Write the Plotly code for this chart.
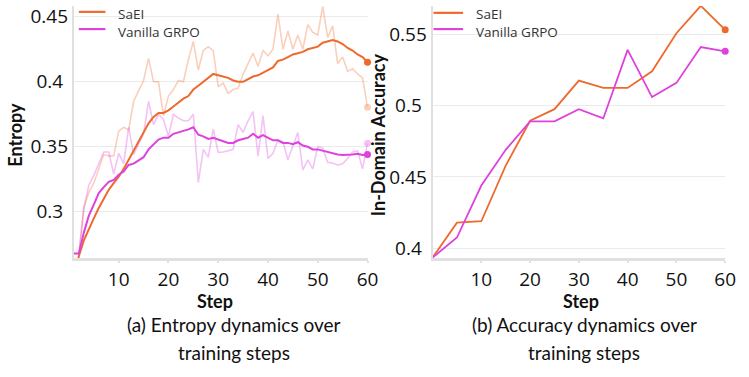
import plotly.graph_objects as go

# ---------------- data ----------------
steps = list(range(1, 61))

saei_entropy_raw = [0.250, 0.266, 0.303, 0.315, 0.322, 0.333, 0.344, 0.343, 0.343, 0.362,
                    0.365, 0.363, 0.385, 0.393, 0.401, 0.418, 0.400, 0.400, 0.374, 0.389,
                    0.394, 0.401, 0.400, 0.417, 0.431, 0.409, 0.424, 0.427, 0.424, 0.396,
                    0.399, 0.391, 0.394, 0.395, 0.406, 0.414, 0.422, 0.412, 0.424, 0.420,
                    0.425, 0.452, 0.425, 0.439, 0.425, 0.436, 0.425, 0.444, 0.438, 0.436,
                    0.458, 0.434, 0.443, 0.414, 0.419, 0.408, 0.410, 0.406, 0.403, 0.3805]

saei_entropy_smooth = [0.250, 0.266, 0.278, 0.287, 0.295, 0.303, 0.310, 0.317, 0.322, 0.327,
                       0.333, 0.340, 0.347, 0.355, 0.362, 0.368, 0.373, 0.376, 0.376, 0.378,
                       0.381, 0.384, 0.387, 0.389, 0.394, 0.397, 0.400, 0.403, 0.406, 0.405,
                       0.404, 0.403, 0.401, 0.400, 0.400, 0.402, 0.404, 0.405, 0.407, 0.409,
                       0.411, 0.416, 0.417, 0.419, 0.421, 0.422, 0.423, 0.425, 0.426, 0.427,
                       0.430, 0.431, 0.432, 0.431, 0.429, 0.426, 0.424, 0.421, 0.419, 0.415]

grpo_entropy_raw = [0.268, 0.268, 0.303, 0.3205, 0.328, 0.337, 0.346, 0.346, 0.329, 0.345,
                    0.337, 0.365, 0.344, 0.352, 0.360, 0.385, 0.367, 0.375, 0.371, 0.358,
                    0.375, 0.372, 0.370, 0.370, 0.375, 0.3225, 0.348, 0.342, 0.3635, 0.3457,
                    0.346, 0.347, 0.348, 0.367, 0.361, 0.370, 0.377, 0.3427, 0.374, 0.341,
                    0.345, 0.355, 0.354, 0.340, 0.350, 0.361, 0.332, 0.340, 0.333, 0.350,
                    0.349, 0.338, 0.3376, 0.336, 0.337, 0.341, 0.346, 0.347, 0.333, 0.3527]

grpo_entropy_smooth = [0.268, 0.268, 0.284, 0.297, 0.3055, 0.3144, 0.319, 0.323, 0.3245, 0.3285,
                       0.331, 0.336, 0.337, 0.3396, 0.342, 0.348, 0.352, 0.3555, 0.357, 0.357,
                       0.360, 0.361, 0.362, 0.3634, 0.365, 0.3593, 0.358, 0.356, 0.357, 0.3555,
                       0.354, 0.3529, 0.353, 0.355, 0.356, 0.357, 0.360, 0.357, 0.359, 0.357,
                       0.355, 0.355, 0.353, 0.353, 0.352, 0.3535, 0.351, 0.350, 0.348, 0.348,
                       0.347, 0.346, 0.345, 0.344, 0.3437, 0.3437, 0.344, 0.3446, 0.3437, 0.344]

acc_steps = [0, 5, 10, 15, 20, 25, 30, 35, 40, 45, 50, 55, 60]
saei_acc = [0.3935, 0.418, 0.419, 0.458, 0.4894, 0.4975, 0.5175, 0.5124, 0.5124, 0.524, 0.5507, 0.5699, 0.5531]
grpo_acc = [0.3935, 0.4076, 0.444, 0.469, 0.489, 0.489, 0.4975, 0.491, 0.539, 0.506, 0.5159, 0.541, 0.538]

x_ticks = [10, 20, 30, 40, 50, 60]
entropy_ticks = [0.3, 0.35, 0.4, 0.45]
entropy_ticktext = ["0.3\u2008", "0.35", "0.4\u2008", "0.45"]
acc_ticks = [0.4, 0.45, 0.5, 0.55]
acc_ticktext = ["0.4\u2008", "0.45", "0.5\u2008", "0.55"]

series_names = ["SaEI", "Vanilla GRPO"]
caption_a = ["(a) Entropy dynamics over", "training steps"]
caption_b = ["(b) Accuracy dynamics over", "training steps"]

# ---------------- style ----------------
ORANGE = "#EE6A2C"
MAGENTA = "#DE42DE"
ORANGE_LIGHT = "rgba(238,106,44,0.32)"
MAGENTA_LIGHT = "rgba(222,66,222,0.32)"
GRID = "#EBEBEB"
AXIS = "#E0E0E0"
TXT = "#111111"

fig = go.Figure()

fig.add_trace(go.Scatter(x=steps, y=saei_entropy_raw, mode="lines",
                         line=dict(color=ORANGE_LIGHT, width=1.6), showlegend=False,
                         xaxis="x", yaxis="y"))
fig.add_trace(go.Scatter(x=steps, y=grpo_entropy_raw, mode="lines",
                         line=dict(color=MAGENTA_LIGHT, width=1.6), showlegend=False,
                         xaxis="x", yaxis="y"))
fig.add_trace(go.Scatter(x=steps, y=saei_entropy_smooth, mode="lines", name=series_names[0],
                         line=dict(color=ORANGE, width=2), showlegend=False,
                         xaxis="x", yaxis="y"))
fig.add_trace(go.Scatter(x=steps, y=grpo_entropy_smooth, mode="lines", name=series_names[1],
                         line=dict(color=MAGENTA, width=2), showlegend=False,
                         xaxis="x", yaxis="y"))
for arr, col in [(saei_entropy_raw, ORANGE_LIGHT), (grpo_entropy_raw, MAGENTA_LIGHT),
                 (saei_entropy_smooth, ORANGE), (grpo_entropy_smooth, MAGENTA)]:
    fig.add_trace(go.Scatter(x=steps[-1:], y=arr[-1:], mode="markers",
                             marker=dict(color=col, size=7), showlegend=False,
                             cliponaxis=False, xaxis="x", yaxis="y"))

fig.add_trace(go.Scatter(x=acc_steps, y=saei_acc, mode="lines", name=series_names[0],
                         line=dict(color=ORANGE, width=1.8), showlegend=False,
                         xaxis="x2", yaxis="y2"))
fig.add_trace(go.Scatter(x=acc_steps, y=grpo_acc, mode="lines", name=series_names[1],
                         line=dict(color=MAGENTA, width=1.8), showlegend=False,
                         xaxis="x2", yaxis="y2"))
for arr, col in [(saei_acc, ORANGE), (grpo_acc, MAGENTA)]:
    fig.add_trace(go.Scatter(x=acc_steps[-1:], y=arr[-1:], mode="markers",
                             marker=dict(color=col, size=7), showlegend=False,
                             cliponaxis=False, xaxis="x2", yaxis="y2"))

W, H = 749, 377
ydom = [(H - 259.5) / H, (H - 3) / H]

tickfont = dict(family="Open Sans, sans-serif", size=19, color=TXT)

def xaxis_cfg(dom, rng):
    return dict(domain=dom, range=rng, tickvals=x_ticks, showgrid=False, zeroline=False,
                showline=True, linecolor=AXIS, linewidth=2.5, ticks="outside",
                ticklen=2, tickcolor=AXIS, tickwidth=1.5, tickfont=tickfont)

def yaxis_cfg(dom, rng, tv, tt, anchor):
    return dict(domain=dom, range=rng, tickvals=tv, ticktext=tt, showgrid=True, gridcolor=GRID,
                gridwidth=1.2, zeroline=False, showline=True, linecolor=AXIS, linewidth=2,
                ticks="", tickfont=tickfont, anchor=anchor)

fig.update_layout(
    width=W, height=H,
    margin=dict(l=0, r=0, t=0, b=0),
    paper_bgcolor="white", plot_bgcolor="white",
    xaxis=dict(xaxis_cfg([75 / W, 373 / W], [1, 60]), anchor="y"),
    yaxis=yaxis_cfg(ydom, [0.2642, 0.4583], entropy_ticks, entropy_ticktext, "x"),
    xaxis2=dict(xaxis_cfg([439 / W, 736 / W], [0, 60]), anchor="y2"),
    yaxis2=yaxis_cfg(ydom, [0.393, 0.5698], acc_ticks, acc_ticktext, "x2"),
    showlegend=False,
)

# legends drawn as line glyphs + labels (paper coordinates)
legfont = dict(family="Open Sans, sans-serif", size=13.5, color="#333333")
shapes = []
ann = []
for (lx0, lx1, tx, rows) in [(80, 107, 118, [(9, 11), (26.5, 29)]),
                             (440, 470, 481, [(10, 11), (26.5, 29)])]:
    for (ly, ty), name, col in zip(rows, series_names, [ORANGE, MAGENTA]):
        shapes.append(dict(type="line", xref="paper", yref="paper",
                           x0=lx0 / W, x1=lx1 / W, y0=(H - ly) / H, y1=(H - ly) / H,
                           line=dict(color=col, width=2.2)))
        ann.append(dict(text=name, x=tx / W, y=(H - ty) / H, xref="paper", yref="paper",
                        showarrow=False, font=legfont, xanchor="left", yanchor="middle"))

title_font = dict(family="Lato, sans-serif", size=18, color=TXT)
capfont = dict(family="Lato, sans-serif", size=19, color=TXT)
ann += [
    dict(text="<b>Step</b>", x=218 / W, y=(H - 303) / H, xref="paper", yref="paper",
         showarrow=False, font=title_font, xanchor="center", yanchor="middle"),
    dict(text="<b>Step</b>", x=590 / W, y=(H - 303) / H, xref="paper", yref="paper",
         showarrow=False, font=title_font, xanchor="center", yanchor="middle"),
    dict(text="<b>Entropy</b>", x=15 / W, y=(H - 134) / H, xref="paper", yref="paper",
         showarrow=False, font=title_font, textangle=-90, xanchor="center", yanchor="middle"),
    dict(text="<b>In-Domain Accuracy</b>", x=384 / W, y=(H - 134) / H, xref="paper", yref="paper",
         showarrow=False, font=title_font, textangle=-90, xanchor="center", yanchor="middle"),
]
for cx, lines in [(237, caption_a), (593, caption_b)]:
    for i, t in enumerate(lines):
        ann.append(dict(text=t, x=cx / W, y=(H - (327 + 28 * i)) / H, xref="paper", yref="paper",
                        showarrow=False, font=capfont, xanchor="center", yanchor="middle"))
fig.update_layout(annotations=ann, shapes=shapes)

fig.write_html("out.html", config={"displayModeBar": False},
               post_script="document.body.style.margin='0';")
